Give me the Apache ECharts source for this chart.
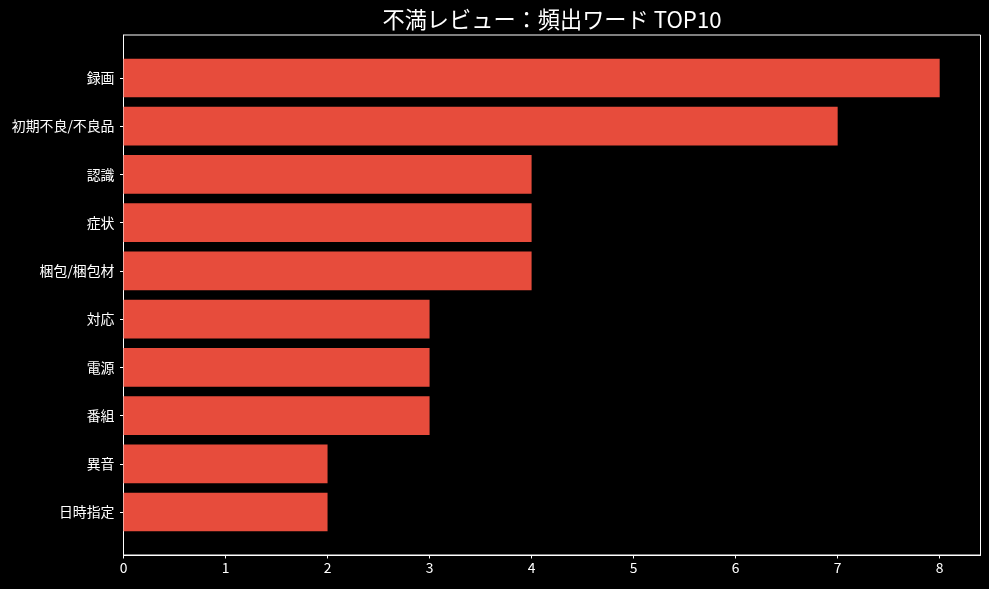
<!DOCTYPE html>
<html>
<head>
<meta charset="utf-8">
<script src="https://cdn.jsdelivr.net/npm/echarts@6/dist/echarts.min.js"></script>
<style>
html,body{margin:0;padding:0;background:#000;}
#c{width:989px;height:589px;}
</style>
</head>
<body>
<div id="c"></div>
<script>
const categories = ["録画", "初期不良/不良品", "認識", "症状", "梱包/梱包材", "対応", "電源", "番組", "異音", "日時指定"];
const counts = [8, 7, 4, 4, 4, 3, 3, 3, 2, 2];
const xTicks = [0, 1, 2, 3, 4, 5, 6, 7, 8];
const titleText = "不満レビュー：頻出ワード TOP10";

const FONT = '"Noto Sans CJK JP", "Noto Sans", sans-serif';
const plotLeft = 123.5, plotTop = 35, plotW = 857, plotH = 520;
const unit = plotH / 10.78;
const bandTop = plotTop + 0.39 * unit;
const bandH = 10 * unit;

const chart = echarts.init(document.getElementById('c'), null, {renderer: 'canvas'});
chart.setOption({
  backgroundColor: '#000',
  animation: false,
  graphic: [{
    type: 'text',
    x: plotLeft + plotW / 2,
    y: 20,
    style: {
      text: titleText,
      fill: '#fff',
      font: '22.2px ' + FONT,
      textAlign: 'center',
      textVerticalAlign: 'middle'
    }
  }],
  grid: [
    {left: plotLeft, top: bandTop, width: plotW, height: bandH, containLabel: false},
    {left: plotLeft, top: plotTop, width: plotW, height: plotH, show: true, borderColor: '#fff', borderWidth: 1, backgroundColor: 'transparent', containLabel: false}
  ],
  xAxis: [
    {gridIndex: 0, type: 'value', min: 0, max: 8.4, show: false},
    {gridIndex: 1, type: 'value', min: 0, max: 8.4,
      axisLine: {show: true, lineStyle: {color: '#fff', width: 1}},
      axisTick: {show: true, length: 3.5, lineStyle: {color: '#fff'}, customValues: xTicks},
      axisLabel: {color: '#fff', fontSize: 13.9, fontFamily: FONT, margin: 6, customValues: xTicks},
      splitLine: {show: false}}
  ],
  yAxis: [
    {gridIndex: 0, type: 'category', data: categories, inverse: true,
      axisLine: {show: false},
      axisTick: {show: true, alignWithLabel: true, length: 3.5, lineStyle: {color: '#fff'}},
      axisLabel: {color: '#fff', fontSize: 13.9, fontFamily: FONT, margin: 9},
      splitLine: {show: false}},
    {gridIndex: 1, type: 'value', min: 0, max: 1, show: true,
      axisLine: {show: true, lineStyle: {color: '#fff'}},
      axisTick: {show: false}, axisLabel: {show: false}, splitLine: {show: false}}
  ],
  series: [{
    type: 'bar',
    xAxisIndex: 0, yAxisIndex: 0,
    data: counts,
    barWidth: '80%',
    itemStyle: {color: '#e74c3c'}
  }]
});
</script>
</body>
</html>
